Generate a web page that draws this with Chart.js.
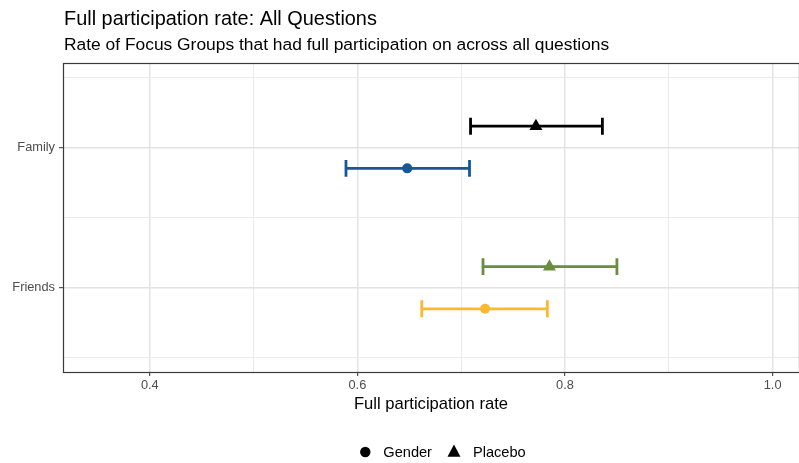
<!DOCTYPE html>
<html>
<head>
<meta charset="utf-8">
<script src="https://cdn.jsdelivr.net/npm/chart.js@4.4.1/dist/chart.umd.min.js"></script>
<style>
  html, body { margin: 0; padding: 0; background: #ffffff; }
  canvas { display: block; }
</style>
</head>
<body>
<canvas id="chart" width="799" height="463"></canvas>
<script>
// ---- data ----
const categories = ['Family', 'Friends'];
const treatments = ['Gender', 'Placebo'];

const placeboRate = [0.772, 0.785];
const placeboLow  = [0.709, 0.721];
const placeboHigh = [0.836, 0.850];

const genderRate = [0.648, 0.723];
const genderLow  = [0.589, 0.662];
const genderHigh = [0.708, 0.783];

const xTickLabels = ['0.4', '0.6', '0.8', '1.0'];
const xGridValues = [0.4, 0.5, 0.6, 0.7, 0.8, 0.9, 1.0];

const titleText = 'Full participation rate: All Questions';
const subtitleText = 'Rate of Focus Groups that had full participation on across all questions';
const xTitleText = 'Full participation rate';

// ---- styling ----
const FONT = '"Liberation Sans", Arial, Helvetica, sans-serif';
const placeboColors = ['#000000', '#6a8d3f'];
const genderColors  = ['#16579a', '#fbb931'];
const DODGE = 0.15;      // vertical offset of each treatment within a category
const CAP = 0.06;        // half-height of error bar caps (category units)

function points(rate, low, high, sign) {
  return categories.map((c, i) => ({ x: rate[i], y: i + 1 + sign * DODGE, lo: low[i], hi: high[i] }));
}

// panel frame, error bars, header and legend
const decorations = {
  id: 'decorations',
  beforeDatasetsDraw(chart) {
    const { ctx, scales: { x, y } } = chart;
    ctx.save();
    ctx.beginPath();
    ctx.rect(chart.chartArea.left, chart.chartArea.top,
             chart.chartArea.right - chart.chartArea.left,
             chart.chartArea.bottom - chart.chartArea.top);
    ctx.clip();
    chart.data.datasets.forEach((ds) => {
      ds.data.forEach((p, i) => {
        const col = Array.isArray(ds.backgroundColor) ? ds.backgroundColor[i] : ds.backgroundColor;
        const py = y.getPixelForValue(p.y);
        const x0 = x.getPixelForValue(p.lo);
        const x1 = x.getPixelForValue(p.hi);
        const cy0 = y.getPixelForValue(p.y - CAP);
        const cy1 = y.getPixelForValue(p.y + CAP);
        ctx.strokeStyle = col;
        ctx.lineWidth = 2.8;
        ctx.lineCap = 'butt';
        ctx.beginPath();
        ctx.moveTo(x0, py); ctx.lineTo(x1, py);
        ctx.moveTo(x0, cy0); ctx.lineTo(x0, cy1);
        ctx.moveTo(x1, cy0); ctx.lineTo(x1, cy1);
        ctx.stroke();
      });
    });
    ctx.restore();
  },
  afterDraw(chart) {
    const { ctx, chartArea } = chart;
    ctx.save();
    // panel border
    ctx.strokeStyle = '#3a3a3a';
    ctx.lineWidth = 1.2;
    ctx.strokeRect(chartArea.left + 0.5, chartArea.top + 0.5,
                   chartArea.right - chartArea.left, chartArea.bottom - chartArea.top);

    // title and subtitle
    ctx.fillStyle = '#000000';
    ctx.textAlign = 'left';
    ctx.textBaseline = 'alphabetic';
    ctx.font = '19.9px ' + FONT;
    ctx.fillText(titleText, chartArea.left + 1, 25);
    ctx.font = '17.4px ' + FONT;
    ctx.fillText(subtitleText, chartArea.left + 1, 50);

    // legend
    ctx.font = '14.6px ' + FONT;
    const wG = ctx.measureText(treatments[0]).width;
    const wP = ctx.measureText(treatments[1]).width;
    const total = 5 + 18 + wG + 22 + 19 + wP;
    const cx1 = 443 - total / 2 + 5;          // circle centre
    const ly = 452;
    ctx.fillStyle = '#000000';
    ctx.beginPath();
    ctx.arc(cx1, ly, 5.2, 0, Math.PI * 2);
    ctx.fill();
    ctx.fillText(treatments[0], cx1 + 18, ly + 5);
    const cx2 = cx1 + 18 + wG + 22;           // triangle centre
    const r = 7.5;
    ctx.beginPath();
    ctx.moveTo(cx2, ly - r);
    ctx.lineTo(cx2 + r * 0.866, ly + r * 0.5 + 1);
    ctx.lineTo(cx2 - r * 0.866, ly + r * 0.5 + 1);
    ctx.closePath();
    ctx.fill();
    ctx.fillText(treatments[1], cx2 + 19, ly + 5);
    ctx.restore();
  }
};

const isMajorX = v => [0.4, 0.6, 0.8, 1.0].some(t => Math.abs(t - v) < 1e-6);

new Chart(document.getElementById('chart'), {
  type: 'scatter',
  data: {
    datasets: [
      {
        label: treatments[1],
        data: points(placeboRate, placeboLow, placeboHigh, -1),
        pointStyle: 'triangle',
        pointRadius: 7.5,
        pointHoverRadius: 7.5,
        borderWidth: 0,
        backgroundColor: placeboColors,
        borderColor: placeboColors
      },
      {
        label: treatments[0],
        data: points(genderRate, genderLow, genderHigh, 1),
        pointStyle: 'circle',
        pointRadius: 5,
        pointHoverRadius: 5,
        borderWidth: 0,
        backgroundColor: genderColors,
        borderColor: genderColors
      }
    ]
  },
  options: {
    responsive: false,
    devicePixelRatio: 1,
    animation: false,
    events: [],
    layout: { autoPadding: false, padding: { top: 63, left: 0, right: 0, bottom: 46 } },
    plugins: {
      legend: { display: false },
      tooltip: { enabled: false },
      title: { display: false }
    },
    scales: {
      x: {
        type: 'linear',
        position: 'bottom',
        min: 0.3164,
        max: 1.0254,
        afterBuildTicks: s => { s.ticks = xGridValues.map(v => ({ value: v })); },
        afterFit: s => { s.height = 45; s.paddingLeft = 0; s.paddingRight = 0; },
        border: { display: false },
        grid: {
          color: c => isMajorX(c.tick.value) ? '#e2e2e2' : '#ebebeb',
          lineWidth: c => isMajorX(c.tick.value) ? 1.4 : 1,
          tickColor: c => isMajorX(c.tick.value) ? '#333333' : 'rgba(0,0,0,0)',
          tickLength: 4,
          tickWidth: 1
        },
        ticks: {
          autoSkip: false,
          maxRotation: 0,
          padding: 2,
          color: '#4d4d4d',
          font: { family: FONT, size: 12.8 },
          callback: v => {
            const idx = [0.4, 0.6, 0.8, 1.0].findIndex(t => Math.abs(t - v) < 1e-6);
            return idx >= 0 ? xTickLabels[idx] : '';
          }
        },
        title: {
          display: true,
          text: xTitleText,
          color: '#000000',
          font: { family: FONT, size: 16.6 },
          padding: { top: 0, bottom: 3 }
        }
      },
      y: {
        type: 'linear',
        position: 'left',
        reverse: true,
        min: 0.4,
        max: 2.6,
        afterBuildTicks: s => { s.ticks = [0.5, 1, 1.5, 2, 2.5].map(v => ({ value: v })); },
        afterFit: s => { s.width = 63; s.paddingTop = 0; s.paddingBottom = 0; },
        border: { display: false },
        grid: {
          color: c => Number.isInteger(c.tick.value) ? '#e2e2e2' : '#ebebeb',
          lineWidth: c => Number.isInteger(c.tick.value) ? 1.4 : 1,
          tickColor: c => Number.isInteger(c.tick.value) ? '#333333' : 'rgba(0,0,0,0)',
          tickLength: 4,
          tickWidth: 1
        },
        ticks: {
          autoSkip: false,
          padding: 4,
          color: '#4d4d4d',
          font: { family: FONT, size: 12.8 },
          callback: v => Number.isInteger(v) ? categories[v - 1] : ''
        }
      }
    }
  },
  plugins: [decorations]
});
</script>
</body>
</html>
